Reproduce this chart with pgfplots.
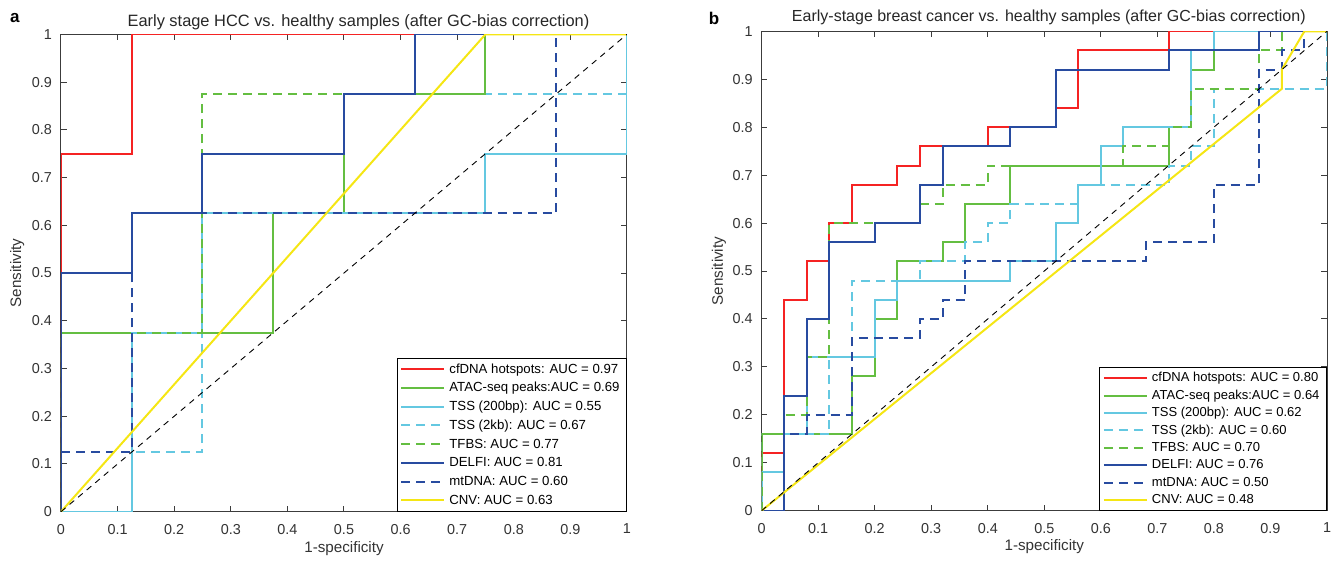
\documentclass[border=0pt]{standalone}
\usepackage{pgfplots}
\pgfplotsset{compat=1.18}
\usepackage{fontspec}
\setmainfont{Liberation Sans}
\definecolor{cRed}{RGB}{245,35,35}
\definecolor{cGreen}{RGB}{100,190,65}
\definecolor{cCyan}{RGB}{100,200,225}
\definecolor{cNavy}{RGB}{40,75,160}
\definecolor{cYel}{RGB}{245,230,20}
\definecolor{cAx}{RGB}{60,60,60}
\pgfplotsset{
  rocaxis/.style={
    scale only axis, xmin=0, xmax=1, ymin=0, ymax=1,
    xtick={0,0.1,...,1.01}, ytick={0,0.1,...,1.01},
    tick align=inside, major tick length=2.8pt,
    axis line style={cAx, line width=0.5pt},
    every tick/.style={cAx, line width=0.5pt},
    /pgf/number format/assume math mode=true,
    /pgf/number format/fixed, /pgf/number format/precision=1,
    tick label style={font=\fontsize{7.2}{8}\selectfont, text=black!80},
    yticklabel style={xshift=-1.0pt},
    xticklabel style={yshift=-2.6pt},
    label style={font=\fontsize{7.6}{9}\selectfont, text=black!80},
    every axis title shift=0pt,
    title style={text=black!85, anchor=center},
    legend cell align=left,
    legend image code/.code={\draw[#1] (0pt,0pt) -- (21.5pt,0pt);},
    legend style={at={(1,0)}, anchor=south east, draw=black, line width=0.5pt,
      font=\fontsize{6.6}{8}\selectfont, text=black,
      inner xsep=1.5pt, inner ysep=0.8pt, row sep=0pt,
      nodes={inner ysep=1.4pt, text height=5.2pt, text depth=1.35pt}},
    every axis plot/.append style={line width=1pt},
  },
  sdash/.style={dash pattern=on 4.5pt off 3pt},
  diag/.style={black, line width=0.45pt, dash pattern=on 3pt off 2.6pt},
}
\pgfplotstableread{
x y
0 0
0 0.75
0.125 0.75
0.125 1
1 1
}\aRed
\pgfplotstableread{
x y
0 0
0 0.375
0.375 0.375
0.375 0.625
0.5 0.625
0.5 0.875
0.75 0.875
0.75 1
1 1
}\aAtac
\pgfplotstableread{
x y
0 0
0.125 0
0.125 0.375
0.25 0.375
0.25 0.625
0.75 0.625
0.75 0.75
1 0.75
1 1
}\aTssA
\pgfplotstableread{
x y
0 0
0.125 0
0.125 0.125
0.25 0.125
0.25 0.875
1 0.875
1 1
}\aTssB
\pgfplotstableread{
x y
0 0
0 0.375
0.25 0.375
0.25 0.875
0.75 0.875
0.75 1
1 1
}\aTfbs
\pgfplotstableread{
x y
0 0
0 0.5
0.125 0.5
0.125 0.625
0.25 0.625
0.25 0.75
0.5 0.75
0.5 0.875
0.625 0.875
0.625 1
1 1
}\aDelfi
\pgfplotstableread{
x y
0 0
0 0.125
0.125 0.125
0.125 0.625
0.875 0.625
0.875 1
1 1
}\aMt
\pgfplotstableread{
x y
0 0
0.75 1
1 1
}\aCnv
\pgfplotstableread{
x y
0 0
1 1
}\diagT
\pgfplotstableread{
x y
0 0
0 0.12
0.04 0.12
0.04 0.44
0.08 0.44
0.08 0.52
0.12 0.52
0.12 0.60
0.16 0.60
0.16 0.68
0.24 0.68
0.24 0.72
0.28 0.72
0.28 0.76
0.40 0.76
0.40 0.80
0.52 0.80
0.52 0.84
0.56 0.84
0.56 0.96
0.72 0.96
0.72 1
1 1
}\bRed
\pgfplotstableread{
x y
0 0
0 0.16
0.16 0.16
0.16 0.28
0.20 0.28
0.20 0.40
0.24 0.40
0.24 0.52
0.32 0.52
0.32 0.56
0.36 0.56
0.36 0.64
0.44 0.64
0.44 0.72
0.72 0.72
0.72 0.80
0.76 0.80
0.76 0.92
0.80 0.92
0.80 0.96
0.88 0.96
0.88 1
1 1
}\bAtac
\pgfplotstableread{
x y
0 0
0 0.08
0.04 0.08
0.04 0.16
0.08 0.16
0.08 0.32
0.20 0.32
0.20 0.44
0.24 0.44
0.24 0.48
0.44 0.48
0.44 0.52
0.52 0.52
0.52 0.60
0.56 0.60
0.56 0.68
0.60 0.68
0.60 0.76
0.64 0.76
0.64 0.80
0.76 0.80
0.76 0.96
0.80 0.96
0.80 1
1 1
}\bTssA
\pgfplotstableread{
x y
0 0
0 0.16
0.12 0.16
0.12 0.32
0.16 0.32
0.16 0.48
0.28 0.48
0.28 0.52
0.36 0.52
0.36 0.56
0.40 0.56
0.40 0.60
0.44 0.60
0.44 0.64
0.56 0.64
0.56 0.68
0.72 0.68
0.72 0.72
0.76 0.72
0.76 0.76
0.80 0.76
0.80 0.88
1 0.88
1 1
}\bTssB
\pgfplotstableread{
x y
0 0
0 0.16
0.04 0.16
0.04 0.20
0.08 0.20
0.08 0.32
0.12 0.32
0.12 0.60
0.28 0.60
0.28 0.64
0.32 0.64
0.32 0.68
0.40 0.68
0.40 0.72
0.64 0.72
0.64 0.76
0.72 0.76
0.72 0.80
0.76 0.80
0.76 0.88
0.88 0.88
0.88 0.96
0.92 0.96
0.92 1
1 1
}\bTfbs
\pgfplotstableread{
x y
0 0
0.04 0
0.04 0.24
0.08 0.24
0.08 0.40
0.12 0.40
0.12 0.56
0.20 0.56
0.20 0.60
0.28 0.60
0.28 0.68
0.32 0.68
0.32 0.76
0.44 0.76
0.44 0.80
0.52 0.80
0.52 0.92
0.72 0.92
0.72 0.96
0.88 0.96
0.88 1
1 1
}\bDelfi
\pgfplotstableread{
x y
0 0
0.04 0
0.04 0.16
0.08 0.16
0.08 0.20
0.16 0.20
0.16 0.36
0.28 0.36
0.28 0.40
0.32 0.40
0.32 0.44
0.36 0.44
0.36 0.52
0.68 0.52
0.68 0.56
0.80 0.56
0.80 0.68
0.88 0.68
0.88 0.92
0.92 0.92
0.92 0.96
0.96 0.96
0.96 1
1 1
}\bMt
\pgfplotstableread{
x y
0 0
0.92 0.88
0.92 0.92
0.96 1
1 1
}\bCnv
\begin{document}
\begin{tikzpicture}
\useasboundingbox (0,0) rectangle (670.5pt,-281pt);
\begin{axis}[rocaxis, at={(30.5pt,-255.85pt)}, anchor=south west,
  width=283pt, height=238.7pt,
  title={Early stage HCC vs. healthy samples (after GC-bias correction)},
  title style={at={(axis description cs:0.5256,1.0243)}, font=\fontsize{8.2}{9.5}\selectfont},
  xlabel={1-specificity}, ylabel={Sensitivity},
  xlabel style={at={(axis description cs:0.5,-0.078)}, anchor=center},
  ylabel style={at={(axis description cs:-0.0776,0.5)}, anchor=center},
]
\addplot[cRed] table {\aRed};
\addlegendentry{cfDNA hotspots: AUC = 0.97}
\addplot[cGreen] table {\aAtac};
\addlegendentry{ATAC-seq peaks:AUC = 0.69}
\addplot[cCyan] table {\aTssA};
\addlegendentry{TSS (200bp): AUC = 0.55}
\addplot[cCyan, sdash] table {\aTssB};
\addlegendentry{TSS (2kb): AUC = 0.67}
\addplot[cGreen, sdash] table {\aTfbs};
\addlegendentry{TFBS: AUC = 0.77}
\addplot[cNavy] table {\aDelfi};
\addlegendentry{DELFI: AUC = 0.81}
\addplot[cNavy, sdash] table {\aMt};
\addlegendentry{mtDNA: AUC = 0.60}
\addplot[cYel] table {\aCnv};
\addlegendentry{CNV: AUC = 0.63}
\addplot[diag, forget plot] table {\diagT};
\end{axis}
\begin{axis}[rocaxis, at={(380.8pt,-255.35pt)}, anchor=south west,
  width=282.7pt, height=239.7pt,
  title={Early-stage breast cancer vs. healthy samples (after GC-bias correction)},
  title style={at={(axis description cs:0.508,1.029)}, font=\fontsize{8.0}{9.5}\selectfont},
  xlabel={1-specificity}, ylabel={Sensitivity},
  xlabel style={at={(axis description cs:0.5,-0.075)}, anchor=center},
  ylabel style={at={(axis description cs:-0.0753,0.5)}, anchor=center},
  legend style={font=\fontsize{6.5}{8}\selectfont, nodes={inner ysep=1.2pt, text height=5.0pt, text depth=1.3pt}},
]
\addplot[cRed] table {\bRed};
\addlegendentry{cfDNA hotspots: AUC = 0.80}
\addplot[cGreen] table {\bAtac};
\addlegendentry{ATAC-seq peaks:AUC = 0.64}
\addplot[cCyan] table {\bTssA};
\addlegendentry{TSS (200bp): AUC = 0.62}
\addplot[cCyan, sdash] table {\bTssB};
\addlegendentry{TSS (2kb): AUC = 0.60}
\addplot[cGreen, sdash] table {\bTfbs};
\addlegendentry{TFBS: AUC = 0.70}
\addplot[cNavy] table {\bDelfi};
\addlegendentry{DELFI: AUC = 0.76}
\addplot[cNavy, sdash] table {\bMt};
\addlegendentry{mtDNA: AUC = 0.50}
\addplot[cYel] table {\bCnv};
\addlegendentry{CNV: AUC = 0.48}
\addplot[diag, forget plot] table {\diagT};
\end{axis}
\node[font=\bfseries\fontsize{8.5}{10}\selectfont] at (7.4pt,-9pt) {a};
\node[font=\bfseries\fontsize{8.5}{10}\selectfont] at (357pt,-9pt) {b};
\end{tikzpicture}
\end{document}
